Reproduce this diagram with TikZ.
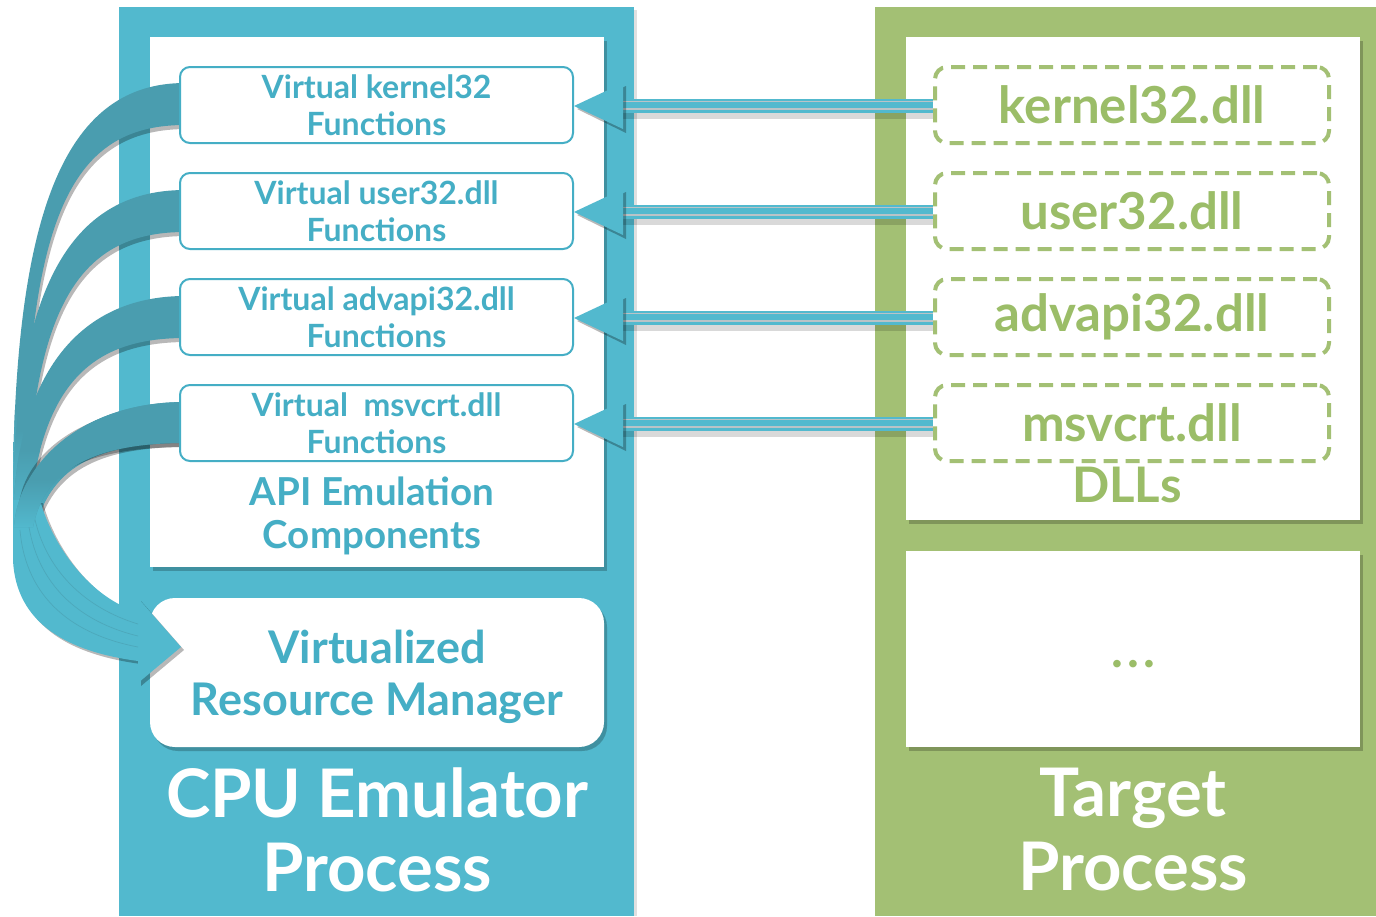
\documentclass[tikz,border=0pt]{standalone}
\usepackage{fontspec}
\setmainfont{Lato}
\usetikzlibrary{calc}
\definecolor{cpublue}{HTML}{52B9CE}
\definecolor{ribbon}{HTML}{4A9DAF}
\definecolor{fntblue}{HTML}{45AEC5}
\definecolor{tgreen}{HTML}{A3C074}
\definecolor{txtgreen}{HTML}{9BBD68}
\definecolor{gapgray}{HTML}{B9C3C7}
\begin{document}
\begin{tikzpicture}[x=1pt,y=-1pt,
  fbox/.style={draw=fntblue, line width=2pt, fill=white, rounded corners=10pt,
    minimum width=393pt, minimum height=76pt, inner sep=0pt, align=center,
    text=fntblue, font=\fontsize{32}{37}\selectfont\bfseries},
  dllbox/.style={draw=tgreen, line width=4pt, dash pattern=on 14pt off 8pt,
    rounded corners=12pt, minimum width=394pt, minimum height=76pt, inner sep=0pt,
    text=txtgreen, font=\fontsize{51}{55}\selectfont\bfseries},
  panelshadow/.style={fill=black, opacity=0.22},
  bigtitle/.style={text=white, align=center, font=\fontsize{67}{74}\selectfont\bfseries},
  ribbonshadow/.style={fill=black, opacity=0.28},
]
\useasboundingbox (0,0) rectangle (1376,916);
\fill[white] (0,0) rectangle (1376,916);

% process panels
\fill[panelshadow, opacity=0.12] (122,10) rectangle (637,916);
\fill[cpublue] (119,7) rectangle (634,916);
\fill[panelshadow, opacity=0.12] (878,10) rectangle (1376,916);
\fill[tgreen] (875,7) rectangle (1376,916);

% white areas inside the panels
\fill[panelshadow] (153,41) rectangle (607,571);
\fill[white] (150,37) rectangle (604,567);
\fill[panelshadow, rounded corners=25pt] (153,602) rectangle (607,751);
\fill[white, rounded corners=25pt] (150,598) rectangle (604,747);
\node[align=center, text=fntblue, font=\fontsize{45}{52}\selectfont\bfseries]
  (vrm) at (377,677) {Virtualized\\Resource Manager};
\fill[panelshadow] (909,41) rectangle (1363,524);
\fill[white] (906,37) rectangle (1360,520);
\fill[panelshadow] (909,555) rectangle (1363,751);
\fill[white] (906,551) rectangle (1360,747);
\node[text=txtgreen, font=\fontsize{50}{50}\selectfont\bfseries] (more) at (1133,664)
  {.\kern4pt.\kern4pt.};

% curved ribbons from the emulated function groups, lightening towards their ends
\foreach \a/\b/\ex/\ey/\ix/\cA/\cB/\cC/\cD in {
   83/125/13/480/25/70/200/28/80,
  190/232/13/500/27/70/290/34/90,
  296/338/13/520/29/75/380/40/95,
  402/443/14/540/33/80/465/45/100}{
  \fill[ribbonshadow] ($(185,\a)+(2,3)$) .. controls ($(\cA,\a)+(2,3)$) and ($(16,\cB)+(2,3)$) .. ($(\ex,\ey)+(2,3)$)
    -- ($(\ix,\ey)+(2,3)$) .. controls ($(\cC,\cB)+(2,4)$) and ($(\cD,\b)+(2,4)$) .. ($(185,\b)+(2,4)$) -- cycle;
  \begin{scope}
    \clip (185,\a) .. controls (\cA,\a) and (16,\cB) .. (\ex,\ey)
      -- (\ix,\ey) .. controls (\cC,\cB) and (\cD,\b) .. (185,\b) -- cycle;
    \fill[ribbon] (0,\a-5) rectangle (190,\ey+5);
    \shade[top color=ribbon, bottom color=cpublue] (0,\ey-70) rectangle (60,\ey+1);
  \end{scope}
}

% merged bundle of the curved arrows and its head
\fill[ribbonshadow] (16,503) -- (16,563) .. controls (19,628) and (73,655) .. (141,664)
  -- (141,686) -- (184,650) -- (141,601) -- (141,615)
  .. controls (93,601) and (55,548) .. (43,503) -- cycle;
\fill[cpublue] (13,500) -- (13,560) .. controls (16,625) and (70,652) .. (138,661)
  -- (138,683) -- (181,647) -- (138,598) -- (138,612)
  .. controls (90,598) and (52,545) .. (40,500) -- cycle;
\draw[ribbon!60!cpublue, line width=0.7pt] (20,530) .. controls (26,600) and (75,635) .. (138,647);
\draw[ribbon!60!cpublue, line width=0.7pt] (28,520) .. controls (36,585) and (80,622) .. (138,636);
\draw[ribbon!60!cpublue, line width=0.7pt] (34,515) .. controls (45,570) and (85,608) .. (138,624);

% the lowest ribbon passes over the top of the bundle
\fill[ribbonshadow] (187,405) .. controls (82,405) and (24,455) .. (19,505)
  -- (40,505) .. controls (50,466) and (102,447) .. (187,447) -- cycle;
\begin{scope}
  \clip (185,402) .. controls (80,402) and (18,465) .. (14,527)
    -- (33,527) .. controls (45,466) and (100,443) .. (185,443) -- cycle;
  \fill[ribbon] (0,395) rectangle (190,530);
  \shade[top color=ribbon, bottom color=cpublue] (0,480) rectangle (60,528);
\end{scope}

% emulated API groups
\node[fbox] (f1) at (376.5,105) {Virtual kernel32\\Functions};
\node[fbox] (f2) at (376.5,211) {Virtual user32.dll\\Functions};
\node[fbox] (f3) at (376.5,317) {Virtual advapi32.dll\\Functions};
\node[fbox] (f4) at (376.5,423) {Virtual\ \ msvcrt.dll\\Functions};
\node[text=fntblue, align=center, font=\fontsize{38.5}{43}\selectfont\bfseries]
  (api) at (372,516) {API Emulation\\Components};

% target DLLs
\node[dllbox] (d1) at (1132,105) {kernel32.dll};
\node[dllbox] (d2) at (1132,211) {user32.dll};
\node[dllbox] (d3) at (1132,317) {advapi32.dll};
\node[dllbox] (d4) at (1132,423) {msvcrt.dll};
\node[text=txtgreen, font=\fontsize{49}{50}\selectfont\bfseries] (dlls) at (1127,485) {DLLs};

% straight arrows from each DLL to its emulated counterpart
\foreach \i in {1,2,3,4}{
  \coordinate (h\i) at ($(f\i.east)+(49,1)$);
  \fill[ribbonshadow, opacity=0.15] ($(d\i.west |- h\i)+(0,7)$) rectangle ($(h\i)+(0,13)$);
  \draw[cpublue, line width=14pt] (d\i.west |- h\i) -- (h\i);
  \draw[gapgray, line width=1.6pt] ($(d\i.west |- h\i)+(0,-4.5)$) -- ($(h\i)+(0,-4.5)$);
  \draw[gapgray, line width=2pt] ($(d\i.west |- h\i)+(0,3)$) -- ($(h\i)+(0,3)$);
  \fill[ribbonshadow] ($(f\i.east)+(3,4)$) -- ($(h\i)+(3,-20)$) -- ($(h\i)+(3,27)$) -- cycle;
  \fill[cpublue] ($(f\i.east)+(0,1)$) -- ($(h\i)+(0,-23)$) -- ($(h\i)+(0,23)$) -- cycle;
}

% process titles
\node[bigtitle] (cpu) at (377,830) {CPU Emulator\\Process};
\node[bigtitle] (tgt) at (1133,830) {Target\\Process};
\end{tikzpicture}
\end{document}
